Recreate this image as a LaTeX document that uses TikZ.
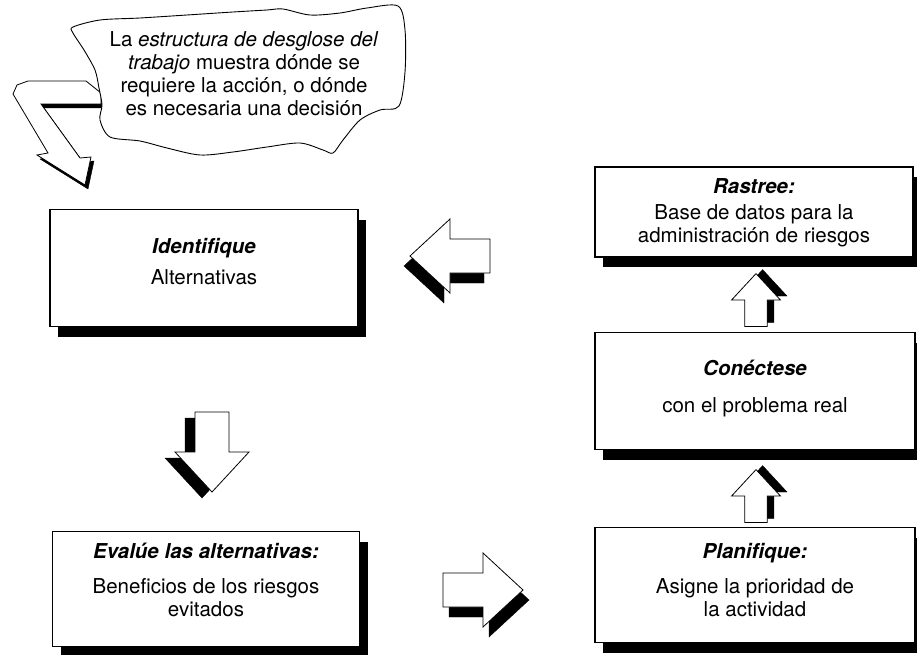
\documentclass[tikz,border=0pt]{standalone}
\usepackage{fontspec}
\setmainfont{TeX Gyre Heros}
\usetikzlibrary{shadows}

\tikzset{
  box/.style={draw, fill=white, line width=1.1pt,
    general shadow={fill=black, shadow xshift=8pt, shadow yshift=-10pt}},
  txt/.style={align=center, inner sep=0pt, font=\fontsize{20.5}{23}\selectfont},
}

%% one block arrow, pointing along +x
\newcommand{\arrowbody}[1]{%
  \filldraw[#1] (-40,-17) -- (0,-17) -- (0,-37) -- (40,0) -- (0,37) -- (0,17) -- (-40,17) -- cycle;}
\newcommand{\blockarrow}[1]{%
  \begin{scope}[#1]
    \arrowbody{fill=black, draw=black, shift={(6,10)}}
    \arrowbody{fill=white, draw=black, line width=.8pt}
  \end{scope}}

\begin{document}
\begin{tikzpicture}[x=1pt,y=-1pt]
  \useasboundingbox (0,0) rectangle (917,655);

  %% bent arrow out of the note
  \filldraw[fill=black, shift={(3,4)}] (101,93) -- (86,81) -- (28,81) -- (17,85) -- (13,94)
    -- (48,153) -- (37,155) -- (85,185) -- (91,157) -- (80,158) -- (41,104) -- (101,104) -- cycle;
  \filldraw[fill=white, line width=.8pt] (101,93) -- (86,81) -- (28,81) -- (17,85) -- (13,94)
    -- (48,153) -- (37,155) -- (85,185) -- (91,157) -- (80,158) -- (41,104) -- (101,104) -- cycle;

  %% the note
  \draw[fill=white, line width=.9pt] plot[smooth cycle] coordinates {
    (73,27) (100,20) (140,18) (187,15) (233,12) (267,10) (283,9) (310,15) (340,13)
    (367,8) (398,6) (405,30) (405,72) (399,106) (380,110) (360,120) (343,140)
    (333,153) (323,150) (300,143) (267,147) (233,152) (200,155) (167,148) (140,141)
    (110,137) (100,120) (102,105) (99,88) (95,70) (84,50) (73,33)};
  \node (note) at (244,74) [txt] {La \textit{estructura de desglose del}\\
    \textit{trabajo} muestra dónde se\\ requiere la acción, o dónde\\ es necesaria una decisión};

  %% left column
  \node (ident) at (204,268) [box, minimum width=308pt, minimum height=117pt] {};
  \node (identtxt) at (204,262) [txt] {\textbf{\textit{Identifique}}\\[8pt] Alternativas};

  \node (eval) at (206,589) [box, minimum width=307pt, minimum height=115pt] {};
  \node (evaltxt) at (206,580) [txt] {\textbf{\textit{Evalúe las alternativas:}}\\[12pt]
    Beneficios de los riesgos\\ evitados};

  %% right column
  \node (rastree) at (754,212) [box, minimum width=318pt, minimum height=90pt] {};
  \node (rastreetxt) at (754,213) [txt] {\textbf{\textit{Rastree:}}\\[3pt]
    Base de datos para la\\ administración de riesgos};

  \node (conect) at (755,391) [box, minimum width=320pt, minimum height=117pt] {};
  \node (conecttxt) at (755,389) [txt] {\textbf{\textit{Conéctese}}\\[14pt] con el problema real};

  \node (planif) at (755,585) [box, minimum width=320pt, minimum height=115pt] {};
  \node (planiftxt) at (755,580) [txt] {\textbf{\textit{Planifique:}}\\[12pt]
    Asigne la prioridad de\\ la actividad};

  %% block arrows
  \blockarrow{shift={(450,256)}, xscale=-1}
  \blockarrow{shift={(212,452)}, rotate=-90}
  \blockarrow{shift={(483,590)}}
  \blockarrow{shift={(756,300)}, rotate=90, scale=.66}
  \blockarrow{shift={(756,496)}, rotate=90, scale=.66}
\end{tikzpicture}
\end{document}
